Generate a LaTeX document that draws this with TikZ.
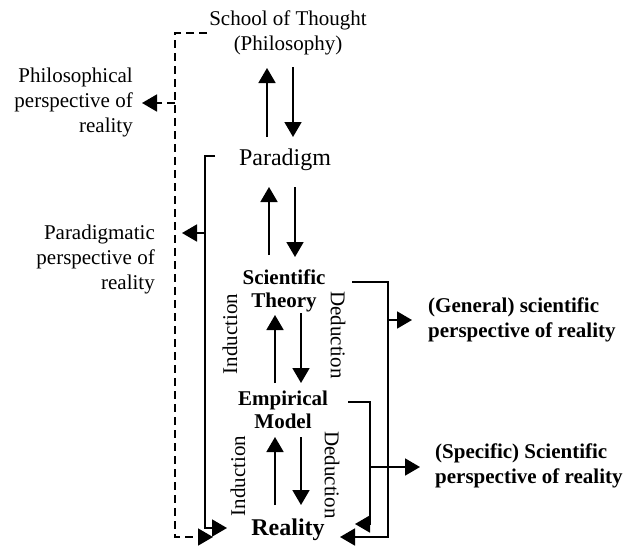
\documentclass[tikz,border=0pt]{standalone}
\usepackage{fontspec}
\setmainfont{Liberation Serif}
\usetikzlibrary{arrows.meta}
\begin{document}
\begin{tikzpicture}[x=1pt,y=-1pt,
  wire/.style={line width=1.8pt},
  link/.style={wire,-{Triangle[length=15pt,width=17pt]}},
  dashwire/.style={wire,dash pattern=on 8pt off 5pt},
  dashlink/.style={dashwire,-{Triangle[length=15pt,width=17pt]}},
  txt/.style={inner sep=0pt,font=\fontsize{21}{25}\selectfont},
  big/.style={inner sep=0pt,font=\fontsize{24}{28}\selectfont},
  bold/.style={inner sep=0pt,font=\fontsize{21}{23}\selectfont\bfseries},
  bigbold/.style={inner sep=0pt,font=\fontsize{24}{28}\selectfont\bfseries},
  side/.style={inner sep=0pt,font=\fontsize{21}{25}\selectfont}]
\useasboundingbox (0,0) rectangle (628,546);

% central chain
\node[txt,align=center] (school) at (288,33) {School of Thought\\(Philosophy)};
\node[big] (para) at (285,160) {Paradigm};
\node[bold,align=center] (theory) at (284,291) {Scientific\\Theory};
\node[bold,align=center] (model) at (283,410) {Empirical\\Model};
\node[bigbold] (real) at (288,530) {Reality};

% perspectives
\node[side,align=right,anchor=east] (philo) at (133,102) {Philosophical\\perspective of\\reality};
\node[side,align=right,anchor=east] (paradig) at (155,259) {Paradigmatic\\perspective of\\reality};
\node[side,align=left,anchor=west,font=\fontsize{21}{25}\selectfont\bfseries] (general) at (428,320) {(General) scientific\\perspective of reality};
\node[side,align=left,anchor=west,font=\fontsize{21}{25}\selectfont\bfseries] (specific) at (435,466) {(Specific) Scientific\\perspective of reality};

% reasoning labels
\node[txt,rotate=90] (ind1) at (230,334) {Induction};
\node[txt,rotate=90] (ind2) at (238,476) {Induction};
\node[txt,rotate=-90] (ded1) at (338,335) {Deduction};
\node[txt,rotate=-90] (ded2) at (332,475) {Deduction};

% up/down arrow pairs
\coordinate (spU0) at (267,137); \coordinate (spU1) at (267,68);
\coordinate (spD0) at (293,67);  \coordinate (spD1) at (293,137);
\coordinate (ptU0) at (269,255); \coordinate (ptU1) at (269,187);
\coordinate (ptD0) at (295,187); \coordinate (ptD1) at (295,257);
\coordinate (tmU0) at (275,383); \coordinate (tmU1) at (275,315);
\coordinate (tmD0) at (301,313); \coordinate (tmD1) at (301,383);
\coordinate (mrU0) at (275,505); \coordinate (mrU1) at (275,437);
\coordinate (mrD0) at (301,437); \coordinate (mrD1) at (301,505);
\draw[link] (spU0) -- (spU1);
\draw[link] (spD0) -- (spD1);
\draw[link] (ptU0) -- (ptU1);
\draw[link] (ptD0) -- (ptD1);
\draw[link] (tmU0) -- (tmU1);
\draw[link] (tmD0) -- (tmD1);
\draw[link] (mrU0) -- (mrU1);
\draw[link] (mrD0) -- (mrD1);

% philosophical bracket (dashed)
\coordinate (phA) at (207,33);
\coordinate (phB) at (175,33);
\coordinate (phC) at (175,537);
\coordinate (phEnd) at (213,537);
\coordinate (phJ) at (175,103);
\coordinate (phTip) at (142,103);
\draw[dashlink] (phA) -- (phB) -- (phC) -- (phEnd);
\draw[dashlink] (phJ) -- (phTip);

% paradigmatic bracket
\coordinate (paA) at (215,156);
\coordinate (paB) at (205,156);
\coordinate (paC) at (205,528);
\coordinate (paEnd) at (227,528);
\coordinate (paJ) at (205,233);
\coordinate (paTip) at (182,233);
\draw[link] (paA) -- (paB) -- (paC) -- (paEnd);
\draw[link] (paJ) -- (paTip);

% general scientific bracket
\coordinate (thA) at (352,282);
\coordinate (thB) at (388,282);
\coordinate (thC) at (388,537);
\coordinate (thEnd) at (340,537);
\coordinate (thJ) at (388,320);
\coordinate (thTip) at (412,320);
\draw[link] (thA) -- (thB) -- (thC) -- (thEnd);
\draw[link] (thJ) -- (thTip);

% specific scientific bracket
\coordinate (moA) at (348,402);
\coordinate (moB) at (370,402);
\coordinate (moC) at (370,524);
\coordinate (moEnd) at (355,524);
\coordinate (moJ) at (370,467);
\coordinate (moTip) at (420,467);
\draw[link] (moA) -- (moB) -- (moC) -- (moEnd);
\draw[link] (moJ) -- (moTip);
\end{tikzpicture}
\end{document}
